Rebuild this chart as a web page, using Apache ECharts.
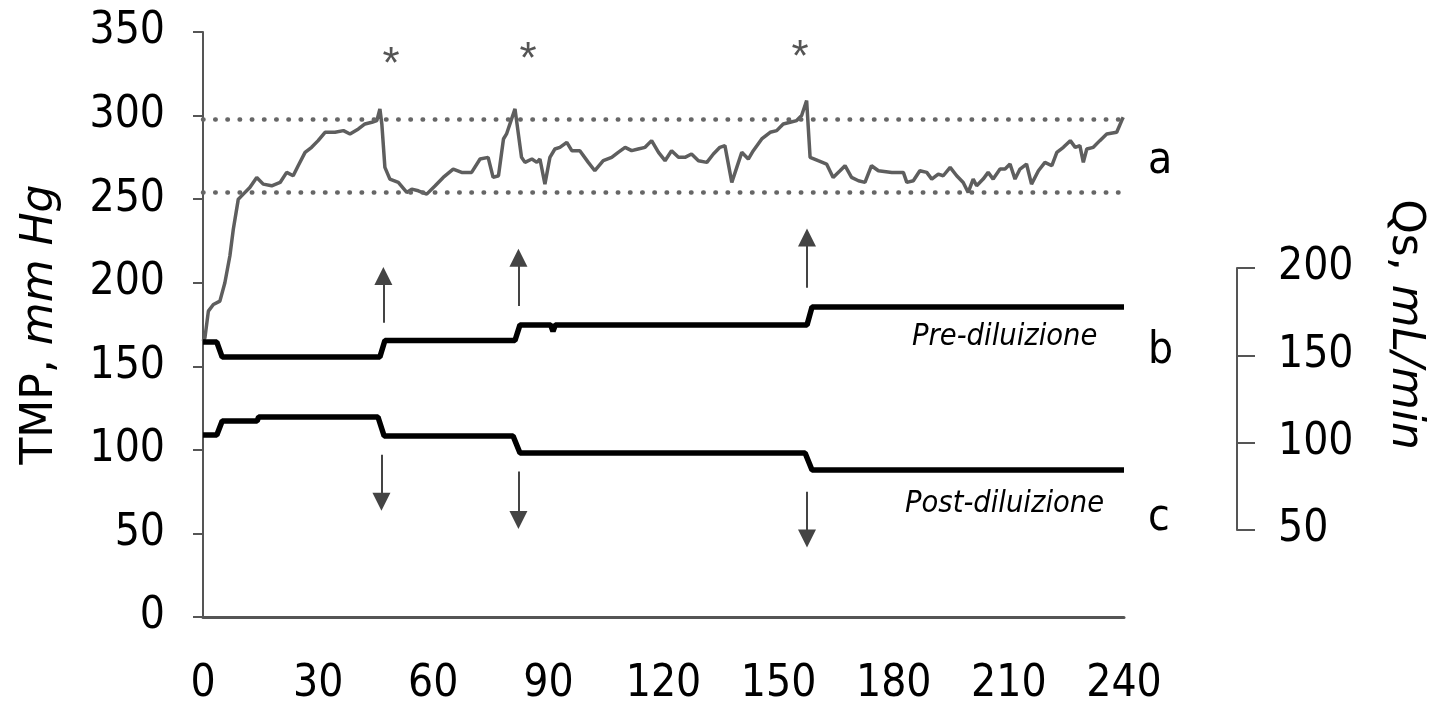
<!DOCTYPE html>
<html style="height: 100%;width:100%">

<head>
    <meta charset="utf-8">
    <style>
        html,
        body {
            height: 100%;
            width: 100%;
            margin: 0;
            padding: 0;
            background: #fff;
        }

        #chart-panel {
            width: 1436px;
            height: 703px;
        }
    </style>
</head>

<body>
    <div id="chart-panel"></div>
    <script type="text/javascript" src="https://cdn.jsdelivr.net/npm/echarts@6/dist/echarts.min.js"></script>
    <script type="text/javascript">
        // tick labels
        var timeTicks = [0, 30, 60, 90, 120, 150, 180, 210, 240];
        var tmpTicks = [0, 50, 100, 150, 200, 250, 300, 350];
        var qsTicks = [50, 100, 150, 200];

        // a: TMP (mm Hg) over time (min)
        var tmpData = [
            [0, 165], [0.5, 167], [1.4, 183], [2.7, 187], [4.4, 189], [5.7, 200], [7.0, 216], [7.9, 232],
            [9.2, 250], [10.5, 253], [12.2, 257], [14.0, 263], [15.7, 259], [17.9, 258], [20.1, 260],
            [21.8, 266], [23.5, 264], [24.8, 270], [26.6, 278], [28.3, 281], [30.0, 285], [31.8, 290],
            [34.4, 290], [36.6, 291], [38.3, 289], [40.5, 292], [42.2, 295], [44.0, 296], [45.3, 297],
            [46.1, 304], [46.6, 295], [47.4, 269], [48.7, 262], [50.9, 260], [53.1, 254], [54.4, 256],
            [56.1, 255], [58.3, 253], [60.5, 258], [62.6, 263], [65.2, 268], [67.4, 266], [70.0, 266],
            [72.2, 274], [74.3, 275], [75.6, 263], [77.0, 264], [78.3, 286], [79.1, 289], [81.3, 304],
            [83.0, 275], [83.9, 272], [85.7, 274], [87.0, 272], [87.8, 274], [89.1, 259], [90.4, 275],
            [91.7, 280], [93.0, 281], [94.8, 284], [96.1, 279], [98.2, 279], [100.4, 272], [102.1, 267],
            [104.3, 273], [106.5, 275], [108.2, 278], [110.0, 281], [111.7, 279], [113.4, 280], [115.2, 281],
            [116.9, 285], [118.7, 278], [120.4, 273], [122.1, 279], [123.9, 275], [125.6, 275], [127.3, 277],
            [129.1, 273], [131.3, 272], [133.0, 277], [134.7, 281], [136.0, 282], [137.8, 260], [139.1, 269],
            [140.4, 278], [142.1, 274], [143.4, 279], [145.6, 286], [147.8, 290], [149.5, 291], [151.2, 295],
            [153.0, 296], [154.7, 297], [156.0, 300], [157.3, 309], [158.2, 275], [160.3, 273], [162.5, 271],
            [164.2, 263], [166.0, 267], [167.3, 270], [169.0, 263], [170.8, 261], [172.5, 260], [174.2, 270],
            [176.0, 267], [179.5, 266], [182.5, 266], [183.4, 260], [185.1, 261], [186.8, 267], [188.6, 266],
            [189.9, 262], [191.6, 265], [192.9, 264], [194.7, 269], [196.4, 264], [198.1, 260], [199.4, 254],
            [200.7, 262], [201.6, 258], [203.3, 262], [204.6, 266], [205.9, 262], [207.7, 268], [209.0, 268],
            [210.3, 271], [211.6, 262], [212.9, 268], [214.6, 271], [215.9, 259], [217.7, 267], [219.4, 272],
            [221.2, 270], [222.5, 278], [224.2, 281], [226.0, 285], [227.3, 281], [228.5, 282], [229.4, 272],
            [230.3, 280], [232.0, 281], [233.7, 285], [235.5, 289], [238.1, 290], [239.4, 297], [239.8, 299]
        ];

        // b: Qs pre-diluizione (mL/min)
        var preData = [
            [0, 157.6], [3.6, 157.6], [5.0, 149], [46.1, 149], [47.4, 158.5], [81.3, 158.5], [82.6, 167.4],
            [90.6, 167.4], [91.2, 163.8], [91.8, 167.4], [157.4, 167.4], [158.7, 177.7], [240, 177.7]
        ];

        // c: Qs post-diluizione (mL/min)
        var postData = [
            [0, 104.4], [3.6, 104.4], [5.0, 112.4], [14.1, 112.4], [14.5, 114.7], [45.6, 114.7], [47.2, 103.8],
            [80.8, 103.8], [82.6, 94.1], [156.9, 94.1], [158.7, 84.4], [240, 84.4]
        ];

        // target band (dotted lines)
        var bandLimits = [298, 254];
        // asterisks [t, TMP]
        var starPoints = [[49.0, 330], [84.7, 333], [155.6, 334]];
        // arrows [t, from, to] in TMP units
        var upArrows = [[47.0, 176, 204], [82.2, 186, 215], [157.4, 197, 227]];
        var downArrows = [[46.5, 97, 69], [82.2, 87, 58], [157.4, 75, 47]];

        var narrow = "'DejaVu Sans Condensed', 'Liberation Sans', sans-serif";
        var wide = "'DejaVu Sans', sans-serif";

        function arrowLines(list) {
            return list.map(function (a) {
                return [{ coord: [a[0], a[1]] }, { coord: [a[0], a[2]] }];
            });
        }

        var dom = document.getElementById("chart-panel");
        var myChart = echarts.init(dom);

        var option = {
            animation: false,
            backgroundColor: '#fff',
            grid: [
                { left: 203, right: 312, top: 32, bottom: 86, outerBoundsMode: 'none' },
                { left: 203, right: 312, top: 268, bottom: 173, outerBoundsMode: 'none' }
            ],
            xAxis: [
                {
                    type: 'value',
                    gridIndex: 0,
                    min: timeTicks[0],
                    max: timeTicks[timeTicks.length - 1],
                    interval: timeTicks[1] - timeTicks[0],
                    axisLine: { show: true, onZero: false, lineStyle: { color: '#555', width: 3 } },
                    axisTick: { show: false },
                    splitLine: { show: false },
                    axisLabel: { margin: 46, fontSize: 44, fontFamily: narrow, color: '#000' }
                },
                {
                    type: 'value',
                    gridIndex: 1,
                    min: timeTicks[0],
                    max: timeTicks[timeTicks.length - 1],
                    show: false
                }
            ],
            yAxis: [
                {
                    type: 'value',
                    gridIndex: 0,
                    min: tmpTicks[0],
                    max: tmpTicks[tmpTicks.length - 1],
                    interval: tmpTicks[1] - tmpTicks[0],
                    axisLine: { show: true, onZero: false, lineStyle: { color: '#555', width: 2 } },
                    axisTick: { show: true, length: 10, lineStyle: { color: '#555', width: 2 } },
                    splitLine: { show: false },
                    axisLabel: { margin: 38, fontSize: 44, fontFamily: narrow, color: '#000' },
                    name: '{r|TMP, }{i|mm Hg}',
                    nameLocation: 'middle',
                    nameRotate: 90,
                    nameGap: 140,
                    nameTextStyle: {
                        rich: {
                            r: { fontSize: 44, fontFamily: wide, color: '#000' },
                            i: { fontSize: 44, fontFamily: wide, fontStyle: 'italic', color: '#000' }
                        }
                    }
                },
                {
                    type: 'value',
                    gridIndex: 1,
                    position: 'right',
                    offset: 113,
                    min: qsTicks[0],
                    max: qsTicks[qsTicks.length - 1],
                    interval: qsTicks[1] - qsTicks[0],
                    axisLine: { show: true, onZero: false, lineStyle: { color: '#555', width: 2 } },
                    axisTick: { show: true, length: 18, lineStyle: { color: '#555', width: 2 } },
                    splitLine: { show: false },
                    axisLabel: { margin: 41, fontSize: 44, fontFamily: narrow, color: '#000' }
                },
                {
                    // carries only the right-hand axis title
                    type: 'value',
                    gridIndex: 0,
                    position: 'right',
                    min: tmpTicks[0],
                    max: tmpTicks[tmpTicks.length - 1],
                    axisLine: { show: false, onZero: false },
                    axisTick: { show: false },
                    axisLabel: { show: false },
                    splitLine: { show: false },
                    name: '{r|Qs, }{i|mL/min}',
                    nameLocation: 'middle',
                    nameRotate: -90,
                    nameGap: 258,
                    nameTextStyle: {
                        rich: {
                            r: { fontSize: 44, fontFamily: wide, color: '#000' },
                            i: { fontSize: 44, fontFamily: wide, fontStyle: 'italic', color: '#000' }
                        }
                    }
                }
            ],
            series: [
                {
                    name: 'a',
                    type: 'line',
                    xAxisIndex: 0,
                    yAxisIndex: 0,
                    data: tmpData,
                    showSymbol: false,
                    lineStyle: { color: '#5e5e5e', width: 3.5 },
                    markLine: {
                        silent: true,
                        symbol: ['none', 'none'],
                        label: { show: false },
                        lineStyle: { color: '#666', width: 4.5, type: [0.5, 11.7], cap: 'round' },
                        data: bandLimits.map(function (v) { return { yAxis: v }; })
                    },
                    markPoint: {
                        silent: true,
                        symbolSize: 0,
                        label: {
                            show: true,
                            position: 'inside',
                            formatter: '*',
                            fontSize: 44,
                            fontFamily: "'Liberation Sans', sans-serif",
                            color: '#555'
                        },
                        data: starPoints.map(function (p) { return { coord: p }; })
                    }
                },
                {
                    name: 'arrows',
                    type: 'line',
                    xAxisIndex: 0,
                    yAxisIndex: 0,
                    data: [],
                    markLine: {
                        silent: true,
                        symbol: ['none', 'triangle'],
                        symbolSize: 18,
                        label: { show: false },
                        lineStyle: { color: '#444', width: 2, type: 'solid' },
                        itemStyle: { color: '#000' },
                        data: arrowLines(upArrows).concat(arrowLines(downArrows))
                    }
                },
                {
                    name: 'b',
                    type: 'line',
                    xAxisIndex: 1,
                    yAxisIndex: 1,
                    data: preData,
                    showSymbol: false,
                    lineStyle: { color: '#000', width: 5.5 }
                },
                {
                    name: 'c',
                    type: 'line',
                    xAxisIndex: 1,
                    yAxisIndex: 1,
                    data: postData,
                    showSymbol: false,
                    lineStyle: { color: '#000', width: 5.5 }
                }
            ],
            graphic: [
                { type: 'text', left: 1148, top: 140, style: { text: 'a', fontSize: 44, fontFamily: narrow, fill: '#000' } },
                { type: 'text', left: 1148, top: 330, style: { text: 'b', fontSize: 44, fontFamily: narrow, fill: '#000' } },
                { type: 'text', left: 1148, top: 497, style: { text: 'c', fontSize: 44, fontFamily: narrow, fill: '#000' } },
                { type: 'text', left: 912, top: 322, style: { text: 'Pre-diluizione', fontSize: 30.5, fontStyle: 'italic', fontFamily: narrow, fill: '#000' } },
                { type: 'text', left: 905, top: 489, style: { text: 'Post-diluizione', fontSize: 30.5, fontStyle: 'italic', fontFamily: narrow, fill: '#000' } }
            ]
        };

        myChart.setOption(option);
        window.addEventListener('resize', function () {
            myChart.resize()
        })
    </script>
</body>

</html>
